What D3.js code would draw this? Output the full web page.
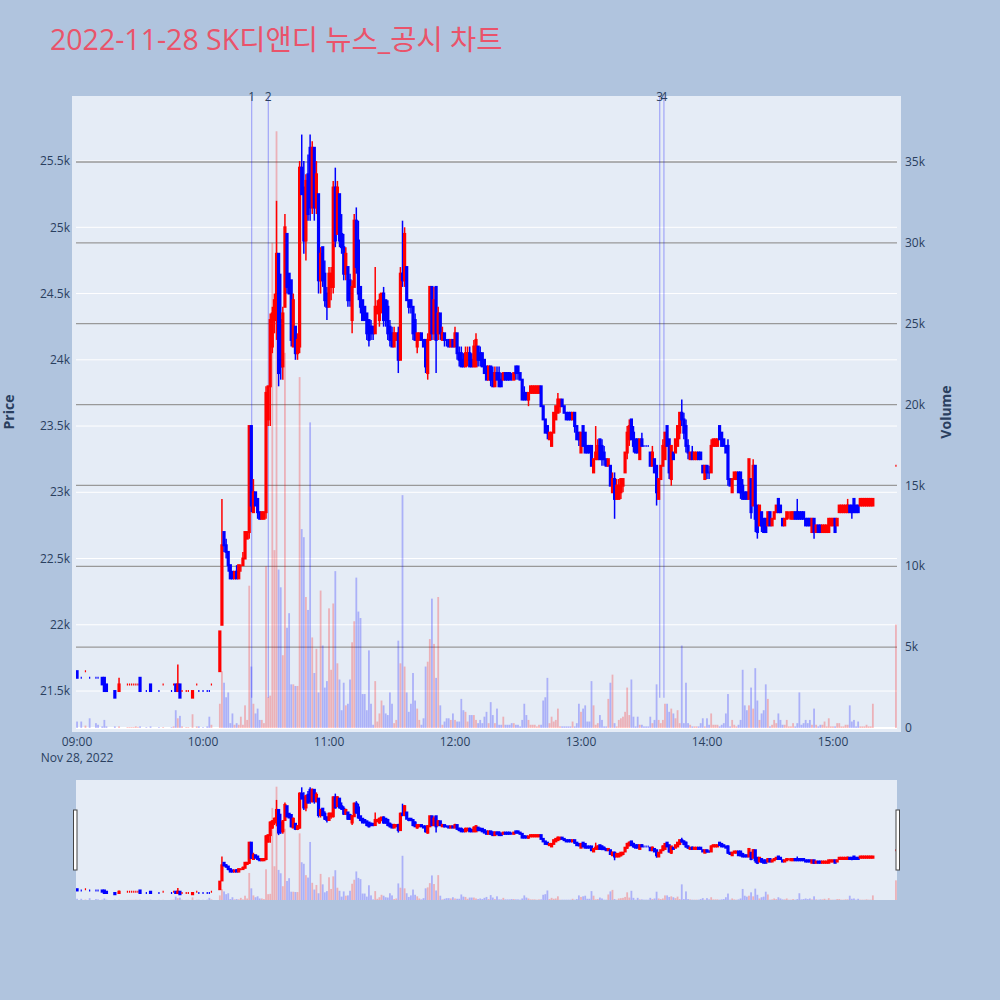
<!DOCTYPE html>
<html>
<head>
<meta charset="utf-8">
<script src="https://cdn.jsdelivr.net/npm/d3@7"></script>
<style>
  body { margin: 0; background: #b0c4de; }
  svg { font-family: "Open Sans", "Noto Sans CJK KR", verdana, arial, sans-serif; }
</style>
</head>
<body>
<svg id="chart" width="1000" height="1000"></svg>
<script>
// ---- data (1 minute candles, [open, high, low, close]) ----
const day = "2022-11-28"
const title = "2022-11-28 SK디앤디 뉴스_공시 차트"

// sparse trading before 10:08
const earlyTimes = ["09:00","09:02","09:04","09:06","09:09","09:10","09:12","09:13","09:14","09:18",
    "09:20","09:24","09:25","09:26","09:27","09:28","09:29","09:30","09:33","09:35",
    "09:39","09:41","09:45","09:46","09:47","09:48","09:49","09:50","09:52","09:53",
    "09:55","09:57","09:58","10:00","10:02","10:03","10:04"]
const earlyCandles = [
    [21650,21650,21600,21600],[21600,21600,21600,21600],[21650,21650,21650,21650],[21600,21600,21600,21600],
    [21600,21600,21600,21600],[21600,21600,21600,21600],[21600,21600,21550,21550],[21600,21600,21500,21500],
    [21550,21550,21500,21500],[21500,21500,21450,21450],[21500,21600,21500,21550],[21550,21550,21550,21550],
    [21550,21550,21550,21550],[21550,21550,21550,21550],[21550,21550,21550,21550],[21550,21550,21550,21550],
    [21550,21550,21550,21550],[21600,21600,21500,21500],[21500,21500,21500,21500],[21550,21550,21500,21500],
    [21500,21500,21500,21500],[21550,21550,21550,21550],[21500,21500,21500,21500],[21550,21550,21550,21550],
    [21550,21550,21500,21500],[21500,21700,21500,21550],[21550,21550,21450,21450],[21500,21500,21500,21500],
    [21500,21500,21500,21500],[21500,21500,21500,21500],[21450,21500,21450,21500],[21550,21550,21550,21550],
    [21500,21500,21500,21500],[21500,21500,21500,21500],[21500,21500,21500,21500],[21500,21500,21500,21500],
    [21550,21550,21550,21550]]
const earlyVolume = [400,400,150,600,300,200,100,500,100,100,100,50,50,50,50,100,50,100,50,100,
    50,50,50,100,1100,600,750,100,50,50,850,100,100,50,100,700,200]

// continuous minutes from 10:08
const candles10 = [
    [21650,21950,21650,21950],[22000,22950,22000,22600],[22700,22700,22550,22600],[22600,22650,22500,22550],
    [22550,22550,22400,22450],[22450,22450,22350,22350],[22400,22400,22350,22350],[22350,22400,22350,22400],
    [22400,22450,22350,22350],[22350,22450,22350,22450],[22450,22450,22400,22450],[22450,22550,22450,22500],
    [22500,22700,22500,22700],[22650,22700,22650,22700],[22700,23500,22650,23500],[23500,23500,22850,22900],
    [22850,23100,22850,23000],[23000,23000,22900,22900],[22950,22950,22800,22850],[22850,22850,22800,22800],
    [22800,22850,22800,22850],[22800,22850,22800,22850],[22850,23800,22800,23750],[23550,23800,23500,23800],
    [23800,24350,23500,24300],[24100,24400,24050,24350],[24300,24500,24200,24450],[24400,25200,24150,24800],
    [24800,24800,23800,23900],[24300,24650,23850,23950],[23950,24400,23850,24350],[24400,25100,24400,25000],
    [24950,24950,24500,24550],[24650,24650,24500,24500],[24600,24600,24100,24150],[24100,24500,24100,24450],
    [24250,24250,24000,24050],[24050,24200,24000,24150],[24100,25500,24050,25450],[25450,25700,25250,25250],
    [25300,25500,24800,24900],[24900,25400,24750,25350],[25400,25550,25050,25100],[25600,25700,25050,25150],
    [25150,25650,25100,25600],[25600,25600,25050,25150],[25150,25500,25100,25400],[25250,25250,24500,24600],
    [24600,24850,24500,24800],[24850,24850,24550,24600],[24650,24750,24400,24450],[24500,24550,24300,24400]]
const volume10 = [1500,3500,2800,1900,2200,300,900,200,300,200,700,200,1400,500,8800,3800,1500,900,1200,500,
    500,300,10000,1900,2000,30000,11000,36900,9800,8700,4500,23200,6200,7100,2700,2700,2600,2600,21700,12300,
    11800,8100,7300,18900,5600,3400,4900,2200,8500,5100,2500,2900]

const candles11 = [
    [24400,24700,24400,24650],[24550,24700,24450,24650],[24550,25350,24500,25300],[25300,25450,24850,24900],
    [24950,25350,24950,25300],[25250,25250,24850,24900],[24950,25100,24800,24850],[24850,24950,24600,24650],
    [24650,24850,24600,24800],[24700,24700,24400,24450],[24600,24650,24400,24450],[24300,24600,24200,24550],
    [24550,25100,24550,25050],[25050,25150,24650,24700],[24900,25050,24450,24500],[24550,24550,24350,24400],
    [24450,24450,24300,24300],[24400,24400,24300,24300],[24350,24350,24150,24200],[24300,24300,24100,24150],
    [24250,24300,24150,24200],[24250,24250,24150,24200],[24200,24700,24200,24400],[24350,24450,24350,24400],
    [24300,24500,24250,24450],[24400,24500,24350,24500],[24500,24550,24250,24300],[24450,24450,24250,24300],
    [24400,24450,24150,24200],[24250,24300,24100,24150],[24200,24250,24100,24100],[24100,24250,24100,24200],
    [24150,24200,24150,24200],[24200,24250,23900,24000],[24000,24700,24000,24650],[24650,25050,24550,24600],
    [24600,25000,24550,24950],[24700,24700,24450,24450],[24450,24450,24350,24400],[24450,24450,24350,24400],
    [24400,24400,24150,24200],[24300,24350,24150,24150],[24100,24200,24050,24200],[24150,24200,24150,24200],
    [24200,24200,24150,24150],[24150,24150,24100,24100],[24150,24150,23900,23950],[23900,24200,23850,24150],
    [24150,24550,24150,24550],[24550,24550,24150,24200],[24200,24550,24150,24450],[24550,24550,23900,24150],
    [24200,24400,24150,24350],[24350,24350,24150,24200],[24150,24250,24150,24200],[24200,24200,24100,24150],
    [24150,24150,24100,24150],[24150,24150,24100,24100],[24100,24150,24100,24150],[24150,24150,24100,24100]]
const volume11 = [7400,3600,7700,9700,4000,3000,1100,2800,1400,1500,3000,5300,6600,9300,7200,6800,2100,2100,1100,4800,
    1500,200,2900,400,900,1700,1400,900,800,2200,1500,300,500,5400,4000,14400,3800,2200,1000,1500,
    3400,1700,1200,500,200,600,3800,4100,5500,8000,5200,3100,8100,1400,200,400,600,600,500,900]

const candles12 = [
    [24100,24250,24100,24200],[24200,24200,24000,24050],[24050,24100,23950,24000],[24050,24100,23950,23950],
    [24000,24050,23950,23950],[23950,24100,23950,24050],[24000,24100,23950,24050],[24050,24100,23950,23950],
    [24000,24050,23950,23950],[23950,24150,23950,24100],[23950,24200,23950,24150],[24100,24100,23950,24000],
    [24050,24100,23950,24000],[24050,24050,23950,23950],[24000,24000,23900,23900],[23950,23950,23850,23850],
    [23850,23950,23850,23950],[23950,23950,23800,23850],[23900,23950,23800,23800],[23800,23950,23800,23900],
    [23900,23950,23850,23850],[23900,23950,23800,23800],[23850,23900,23800,23800],[23850,23900,23850,23900],
    [23900,23900,23850,23850],[23900,23900,23850,23850],[23900,23900,23850,23850],[23850,23900,23850,23850],
    [23850,23900,23850,23900],[23950,23950,23850,23900],[23950,23950,23850,23900],[23900,23900,23850,23850],
    [23850,23850,23700,23700],[23750,23800,23700,23700],[23750,23750,23700,23700],[23700,23750,23650,23750],
    [23750,23800,23750,23800],[23750,23800,23750,23800],[23750,23800,23750,23800],[23750,23800,23750,23800],
    [23750,23800,23750,23800],[23800,23800,23650,23650],[23650,23650,23550,23550],[23550,23550,23450,23450],
    [23500,23500,23400,23450],[23400,23450,23400,23450],[23350,23450,23350,23450],[23450,23600,23450,23600],
    [23550,23650,23550,23650],[23600,23750,23600,23700],[23650,23700,23600,23700],[23700,23700,23650,23650],
    [23650,23650,23600,23600],[23600,23600,23550,23550],[23600,23600,23550,23550],[23600,23600,23550,23550],
    [23550,23600,23550,23600],[23600,23600,23450,23500],[23500,23500,23400,23400],[23450,23450,23350,23400]]
const volume12 = [500,400,400,1800,1100,1000,400,800,800,800,500,300,500,300,700,1000,300,1600,800,300,
    1200,200,200,700,200,200,200,300,300,200,200,100,500,1500,800,500,200,200,200,100,
    200,200,1700,1900,3100,300,700,400,500,1200,100,100,100,100,100,100,400,100,300,1500]

const candles13 = [
    [23300,23450,23300,23450],[23500,23500,23350,23350],[23450,23450,23300,23300],[23350,23350,23300,23300],
    [23350,23350,23300,23300],[23350,23350,23200,23200],[23150,23250,23150,23250],[23250,23500,23250,23300],
    [23250,23400,23250,23350],[23400,23400,23250,23250],[23350,23400,23200,23250],[23300,23350,23200,23250],
    [23250,23250,23200,23200],[23200,23250,23200,23250],[23200,23200,23050,23050],[23000,23150,23000,23100],
    [23100,23150,22800,22950],[22950,23100,22950,23050],[22950,23100,22950,23050],[23000,23100,22950,23100],
    [23050,23100,23000,23100],[23150,23300,23150,23300],[23300,23500,23250,23450],[23400,23550,23350,23500],
    [23550,23550,23400,23400],[23450,23500,23300,23350],[23400,23400,23300,23300],[23400,23400,23300,23300],
    [23250,23400,23250,23400],[23400,23450,23350,23350],[23350,23350,23350,23350],[23350,23350,23350,23350],
    [23350,23350,23350,23350],[23300,23300,23200,23200],[23200,23350,23200,23300],[23250,23250,23150,23150],
    [23200,23200,22900,23000],[22950,23100,22950,23100],[23100,23200,23100,23200],[23200,23400,23200,23350],
    [23250,23450,23250,23450],[23500,23500,23350,23350],[23400,23400,23100,23150],[23100,23350,23050,23350],
    [23300,23300,23250,23250],[23300,23400,23300,23400],[23350,23500,23350,23500],[23450,23600,23400,23600],
    [23600,23700,23500,23550],[23550,23600,23400,23450],[23500,23550,23300,23350],[23350,23400,23250,23300],
    [23250,23300,23250,23300],[23300,23350,23250,23250],[23250,23300,23250,23300],[23250,23300,23250,23300],
    [23300,23300,23250,23250],[23300,23300,23250,23250],[23200,23200,23150,23150],[23100,23200,23100,23200]]
const volume13 = [1000,1200,1400,400,400,2900,1400,200,300,800,500,100,100,1800,2800,3300,300,100,500,600,
    700,1000,2500,800,3000,700,100,700,200,200,100,100,100,700,300,500,2700,500,300,500,
    1500,1500,1000,1200,900,600,1100,300,5100,300,2800,300,200,100,100,100,100,300,600,100]

const candles14 = [
    [23200,23200,23100,23150],[23150,23200,23100,23150],[23150,23400,23150,23350],[23350,23400,23350,23400],
    [23350,23400,23350,23400],[23350,23400,23350,23400],[23500,23500,23400,23400],[23450,23450,23350,23350],
    [23400,23400,23350,23350],[23350,23350,23300,23300],[23350,23400,23050,23100],[23100,23100,23050,23050],
    [23000,23100,23000,23100],[23100,23150,23100,23150],[23100,23150,23100,23150],[23150,23150,23000,23000],
    [23150,23150,22950,23000],[23050,23100,22950,22950],[23000,23000,22950,22950],[23000,23000,22950,22950],
    [22950,23250,22950,23250],[23100,23100,22800,22850],[22900,23250,22900,23200],[23200,23200,22700,22800],
    [22900,22900,22650,22700],[22750,22900,22750,22900],[22850,22850,22700,22750],[22800,22800,22700,22700],
    [22800,22800,22700,22700],[22750,22850,22750,22850],[22850,22850,22750,22750],[22750,22800,22750,22800],
    [22800,22850,22800,22850],[22850,22900,22850,22900],[22950,22950,22850,22850],[22900,22900,22850,22850],
    [22800,22800,22750,22750],[22750,22800,22750,22800],[22800,22850,22800,22850],[22850,22850,22800,22850],
    [22800,22850,22800,22850],[22800,22850,22800,22850],[22850,22850,22800,22800],[22850,22950,22800,22800],
    [22850,22850,22800,22800],[22850,22850,22800,22800],[22850,22850,22800,22800],[22800,22800,22750,22750],
    [22800,22800,22750,22750],[22800,22800,22750,22750],[22700,22800,22700,22800],[22800,22800,22650,22700],
    [22700,22750,22700,22750],[22750,22750,22700,22700],[22750,22750,22700,22700],[22700,22750,22700,22750],
    [22700,22750,22700,22750],[22700,22750,22700,22750],[22700,22800,22700,22800],[22750,22800,22750,22800]]
const volume14 = [600,200,900,200,200,200,100,200,300,900,2100,100,500,200,100,200,500,3600,1400,1100,
    1400,2500,1200,3700,1700,500,900,1100,2700,1800,100,200,500,300,900,500,200,200,500,100,
    100,300,100,300,2200,200,300,500,300,500,200,1200,200,100,200,200,400,100,600,100]

const candles15 = [
    [22750,22800,22750,22800],[22800,22800,22700,22700],[22750,22800,22750,22800],[22850,22900,22850,22900],
    [22850,22900,22850,22900],[22850,22900,22850,22900],[22850,22900,22850,22900],[22850,22950,22850,22900],
    [22900,22900,22850,22850],[22900,22900,22800,22850],[22950,22950,22850,22850],[22900,22900,22850,22850],
    [22900,22900,22850,22850],[22900,22950,22900,22950],[22900,22950,22900,22950],[22900,22950,22900,22950],
    [22900,22950,22900,22950],[22900,22950,22900,22950],[22900,22950,22900,22950],[22900,22950,22900,22950]]
const volume15 = [100,100,300,300,100,100,200,200,1400,400,500,100,400,100,100,100,200,100,100,1500]

// closing auction
const closeTime = "15:30"
const closeCandle = [23200,23200,23200,23200]
const closeVolume = 6400

// news / disclosure markers
const newsTimes = ["10:23:10","10:31:05","13:37:30","13:39:30"]
const newsLabels = ["1","2","3","4"]

// ---- build rows ----
const parseTime = d3.timeParse("%Y-%m-%d %H:%M:%S")
const at = t => parseTime(day + " " + (t.length === 5 ? t + ":00" : t))

var rows = []
earlyTimes.forEach((t, i) => rows.push({ t: at(t), ohlc: earlyCandles[i], v: earlyVolume[i] }))
var blocks = [["10:08", candles10, volume10], ["11:00", candles11, volume11], ["12:00", candles12, volume12],
    ["13:00", candles13, volume13], ["14:00", candles14, volume14], ["15:00", candles15, volume15]]
blocks.forEach(([start, cs, vs]) => {
    var t0 = at(start)
    cs.forEach((c, i) => rows.push({ t: d3.timeMinute.offset(t0, i), ohlc: c, v: vs[i] }))
})
rows.push({ t: at(closeTime), ohlc: closeCandle, v: closeVolume })

// colour rule like plotly: doji takes direction from previous close
var prevClose = null, up = true
rows.forEach(d => {
    var [o, h, l, c] = d.ohlc
    if (c !== o) up = c > o
    else if (prevClose !== null && c !== prevClose) up = c > prevClose
    d.up = up
    prevClose = c
})

const UP = "#ff0000", DOWN = "#0000ff", TXT = "#2a3f5f"

// ---- layout ----
const svg = d3.select("#chart")
const pL = 76, pR = 897, pT = 96, pB = 728
const sT = 780, sB = 900

var x = d3.scaleTime().domain([at("08:59:30"), at("15:30:30")]).range([pL, pR])
var yP = d3.scaleLinear().domain([21221, 25991]).range([pB, pT])
var yV = d3.scaleLinear().domain([0, 39082]).range([pB, pT])
var sP = yP.copy().range([sB, sT])
var sV = yV.copy().range([sB, sT])

svg.append("rect").attr("width", 1000).attr("height", 1000).attr("fill", "#b0c4de")

svg.append("text")
    .attr("x", 50).attr("y", 50)
    .attr("font-size", 28.5).attr("fill", "#ea536a")
    .text(title)

svg.append("rect")
    .attr("x", 72).attr("y", pT).attr("width", 901 - 72).attr("height", 732 - pT)
    .attr("fill", "#e5ecf6")

var defs = svg.append("defs")
defs.append("clipPath").attr("id", "clipMain").append("rect")
    .attr("x", pL).attr("y", pT).attr("width", pR - pL).attr("height", pB - pT + 2)
defs.append("clipPath").attr("id", "clipSlider").append("rect")
    .attr("x", pL).attr("y", sT).attr("width", pR - pL).attr("height", sB - sT)

// grid
var priceTicks = yP.ticks(10)
var volTicks = yV.ticks(8)

svg.append("g").selectAll("line").data(priceTicks).join("line")
    .attr("x1", pL).attr("x2", pR)
    .attr("y1", d => yP(d)).attr("y2", d => yP(d))
    .attr("stroke", "#fff").attr("stroke-width", 1)

svg.append("g").selectAll("line").data(volTicks.filter(d => d > 0)).join("line")
    .attr("x1", pL).attr("x2", pR)
    .attr("y1", d => yV(d)).attr("y2", d => yV(d))
    .attr("stroke", "#999").attr("stroke-width", 1.3)

svg.append("line")
    .attr("x1", pL).attr("x2", pR).attr("y1", yV(0)).attr("y2", yV(0))
    .attr("stroke", "#fff").attr("stroke-width", 2)

// helpers
function drawVolume(g, ys, yBase) {
    g.selectAll("rect.vol").data(rows).join("rect").attr("class", "vol")
        .attr("x", d => x(d.t) - 0.9).attr("width", 1.8)
        .attr("y", d => ys(d.v)).attr("height", d => yBase - ys(d.v))
        .attr("fill", d => d.up ? UP : DOWN).attr("fill-opacity", 0.25)
}

function drawCandles(g, ys) {
    var c = g.selectAll("g.candle").data(rows).join("g").attr("class", "candle")
        .attr("stroke", d => d.up ? UP : DOWN).attr("fill", d => d.up ? UP : DOWN)
    c.append("line")
        .attr("x1", d => x(d.t)).attr("x2", d => x(d.t))
        .attr("y1", d => ys(d.ohlc[1])).attr("y2", d => ys(d.ohlc[2]))
        .attr("stroke-width", 1.5)
    c.append("path")
        .attr("d", d => {
            var cx = x(d.t), y1 = ys(d.ohlc[0]), y2 = ys(d.ohlc[3])
            return `M${cx - 0.6},${y1}H${cx + 0.6}V${y2}H${cx - 0.6}Z`
        })
        .attr("stroke-width", 2)
}

// main plot
var main = svg.append("g").attr("clip-path", "url(#clipMain)")
drawVolume(main.append("g"), yV, pB)

var news = main.append("g")
news.selectAll("line").data(newsTimes).join("line")
    .attr("x1", d => x(at(d))).attr("x2", d => x(at(d)))
    .attr("y1", pT).attr("y2", yP(21450))
    .attr("stroke", "rgba(0,0,255,0.3)").attr("stroke-width", 1.2)

drawCandles(main.append("g"), yP)

svg.append("g").selectAll("text").data(newsTimes).join("text")
    .attr("x", d => x(at(d))).attr("y", 101)
    .attr("text-anchor", "middle").attr("font-size", 12).attr("fill", TXT)
    .text((d, i) => newsLabels[i])

// axes labels
var fmtK = d3.format("~s")
svg.append("g").selectAll("text").data(priceTicks).join("text")
    .attr("x", 70).attr("y", d => yP(d)).attr("dy", "0.35em")
    .attr("text-anchor", "end").attr("font-size", 12).attr("fill", TXT)
    .text(d => fmtK(d))

svg.append("g").selectAll("text").data(volTicks).join("text")
    .attr("x", 905).attr("y", d => yV(d)).attr("dy", "0.35em")
    .attr("text-anchor", "start").attr("font-size", 12).attr("fill", TXT)
    .text(d => fmtK(d))

var hours = d3.timeHour.range(at("09:00"), at("15:01"))
svg.append("g").selectAll("text").data(hours).join("text")
    .attr("x", d => x(d)).attr("y", 746)
    .attr("text-anchor", "middle").attr("font-size", 12).attr("fill", TXT)
    .text(d => d3.timeFormat("%H:%M")(d))

svg.append("text")
    .attr("x", x(at("09:00"))).attr("y", 762)
    .attr("text-anchor", "middle").attr("font-size", 12).attr("fill", TXT)
    .text(d3.timeFormat("%b %-d, %Y")(at("09:00")))

svg.append("text")
    .attr("transform", `translate(14,${(pT + pB) / 2}) rotate(-90)`)
    .attr("text-anchor", "middle").attr("font-size", 14).attr("font-weight", "bold").attr("fill", TXT)
    .text("Price")

svg.append("text")
    .attr("transform", `translate(951,${(pT + pB) / 2}) rotate(-90)`)
    .attr("text-anchor", "middle").attr("font-size", 14).attr("font-weight", "bold").attr("fill", TXT)
    .text("Volume")

// range slider
svg.append("rect")
    .attr("x", pL).attr("y", sT).attr("width", pR - pL).attr("height", sB - sT)
    .attr("fill", "#e5ecf6")
var slider = svg.append("g").attr("clip-path", "url(#clipSlider)")
drawVolume(slider.append("g"), sV, sB)
drawCandles(slider.append("g"), sP)

svg.append("g").selectAll("rect").data([pL - 2.5, pR - 1]).join("rect")
    .attr("x", d => d).attr("y", 810).attr("width", 3.5).attr("height", 60)
    .attr("fill", "#fff").attr("stroke", "#444").attr("stroke-width", 1)
</script>
</body>
</html>
